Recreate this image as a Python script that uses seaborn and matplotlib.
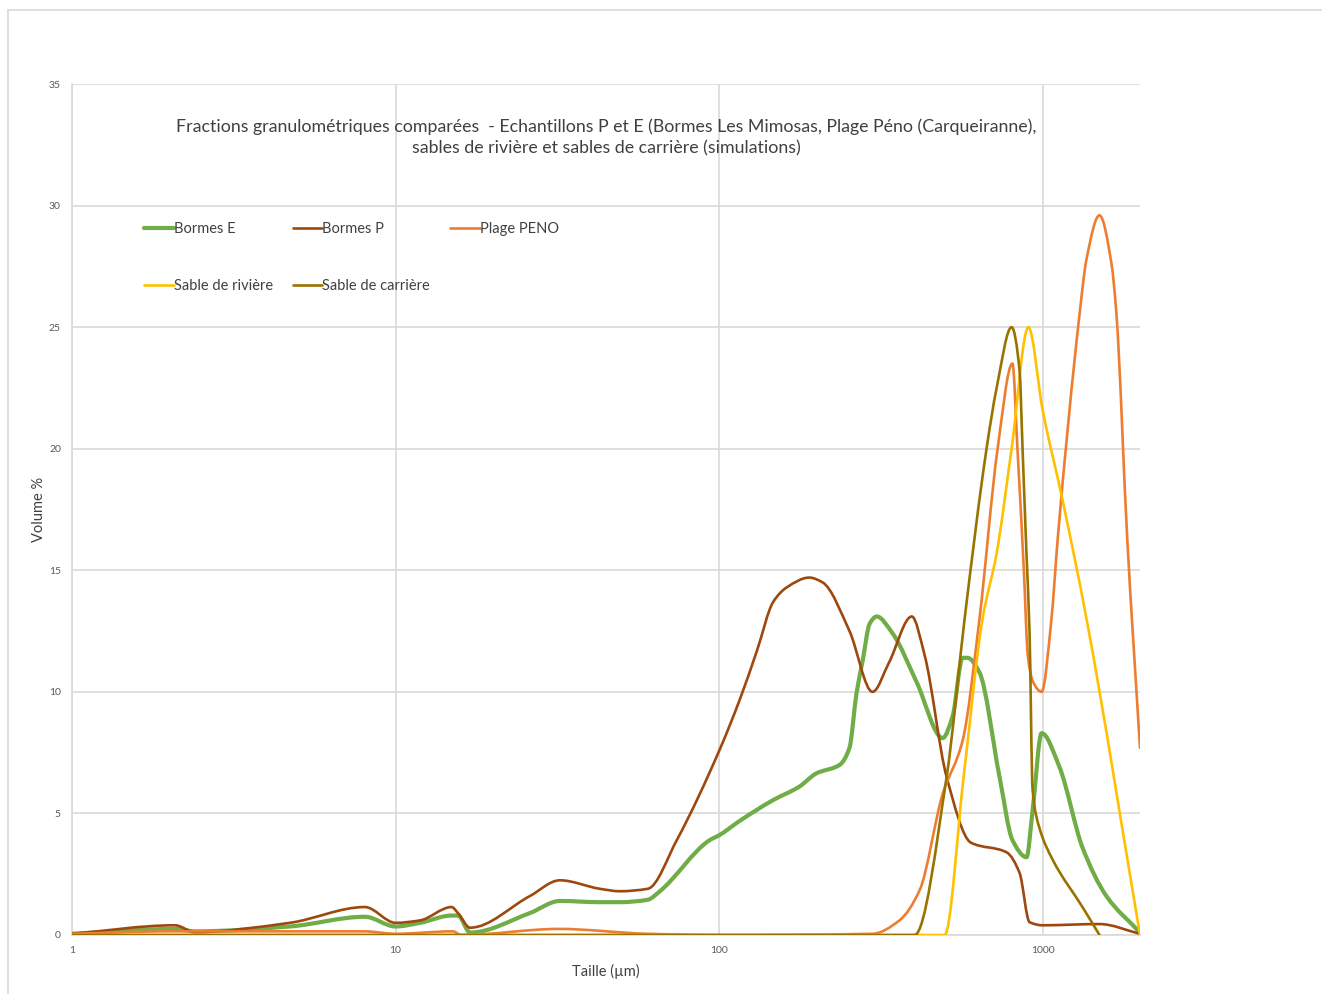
import matplotlib
matplotlib.use("Agg")
import matplotlib.pyplot as plt
import matplotlib.patches as mpatches
from matplotlib.lines import Line2D
from matplotlib.path import Path
import seaborn as sns
import numpy as np

# --- data (size in um, volume %) --- #
bormes_e_x = [1, 2.08, 2.4, 4.71, 8.04, 10, 11.9, 14.9, 15.6, 17.0, 26, 32.2, 42.8, 49.3,
              60.2, 65.6, 93.5, 100, 116, 147, 177, 200, 236, 253, 266, 278, 292, 307, 344,
              408, 491, 527, 566, 586, 638, 736, 807, 892, 931, 993, 1128, 1328, 1575, 2000]
bormes_e_y = [0.05, 0.25, 0.15, 0.35, 0.75, 0.35, 0.5, 0.8, 0.8, 0.1, 0.9, 1.4, 1.35, 1.35,
              1.45, 1.8, 3.9, 4.1, 4.7, 5.55, 6.1, 6.65, 7.0, 7.7, 9.95, 11.3, 12.8, 13.1, 12.4,
              10.4, 8.1, 9.0, 11.4, 11.4, 10.8, 6.5, 3.9, 3.2, 5.1, 8.3, 6.9, 3.6, 1.6, 0.1]

bormes_p_x = [1, 2.08, 2.4, 4.71, 8.04, 10, 11.9, 14.9, 15.6, 17.0, 26, 32.2, 42.8, 49.3,
              60.2, 74, 101, 116, 131, 147, 162, 190, 209, 253, 298, 335, 394, 432, 505,
              600, 774, 849, 911, 1000, 1499, 2000]
bormes_p_y = [0.05, 0.4, 0.12, 0.5, 1.15, 0.5, 0.6, 1.15, 0.9, 0.3, 1.6, 2.25, 1.9, 1.8,
              1.9, 3.9, 7.7, 9.7, 11.7, 13.7, 14.3, 14.7, 14.5, 12.5, 10.0, 11.2, 13.1, 11.5, 6.5,
              3.8, 3.4, 2.55, 0.53, 0.4, 0.45, 0.05]

peno_x = [1, 2, 8, 10, 15, 16, 32, 60, 100, 298, 361, 417, 491, 566, 638, 726, 807,
          836, 875, 900, 935, 993, 1065, 1112, 1300, 1367, 1499, 1633, 1690, 1828, 2000]
peno_y = [0.05, 0.15, 0.15, 0.05, 0.15, 0.0, 0.25, 0.05, 0.0, 0.05, 0.6, 1.85, 5.8, 8.0, 13.0, 20.0, 23.5,
          20.0, 15.0, 11.5, 10.4, 10.0, 13.0, 16.2, 25.5, 27.8, 29.6, 27.6, 25.6, 16.2, 7.7]

riviere_x = [1, 100, 300, 450, 498, 570, 652, 721, 802, 904, 1000, 1152, 1367, 2000]
riviere_y = [0, 0, 0, 0, 0, 6.5, 13.0, 15.7, 20.0, 25.0, 21.6, 17.9, 13.0, 0]

carriere_x = [1, 100, 300, 402, 505, 574, 671, 721, 802, 849, 867, 892, 911, 931, 978, 1074, 1328, 1499]
carriere_y = [0, 0, 0, 0, 6.5, 13.0, 20.0, 22.5, 25.0, 23.2, 20.0, 15.6, 12.5, 6.0, 4.4, 3.1, 1.15, 0]

series = [
    ("Bormes E", bormes_e_x, bormes_e_y, "#70AD47", 3.0),
    ("Bormes P", bormes_p_x, bormes_p_y, "#9E480E", 1.9),
    ("Plage PENO", peno_x, peno_y, "#ED7D31", 1.9),
    ("Sable de rivière", riviere_x, riviere_y, "#FFC000", 1.9),
    ("Sable de carrière", carriere_x, carriere_y, "#997300", 1.9),
]


# [ smooth_path() ]: Excel-like "smoothed line" through the points, #
#                    drawn as cubic bezier segments in log-x space   #
def smooth_path(xs, ys):
    lx = np.log10(np.asarray(xs, float))
    y = np.asarray(ys, float)
    h = np.diff(lx)
    d = np.diff(y) / h
    m = np.zeros_like(y)
    for i in range(1, len(y) - 1):
        if d[i-1] * d[i] > 0:
            w1, w2 = 2*h[i] + h[i-1], h[i] + 2*h[i-1]
            m[i] = (w1 + w2) / (w1 / d[i-1] + w2 / d[i])
    m[0], m[-1] = d[0], d[-1]
    verts = [(xs[0], y[0])]
    codes = [Path.MOVETO]
    for i in range(len(y) - 1):
        c1 = (10 ** (lx[i] + h[i]/3), y[i] + m[i]*h[i]/3)
        c2 = (10 ** (lx[i+1] - h[i]/3), y[i+1] - m[i+1]*h[i]/3)
        verts += [c1, c2, (xs[i+1], y[i+1])]
        codes += [Path.CURVE4] * 3
    return Path(verts, codes)


# --- figure --- #
sns.set_style("white")
plt.rcParams['font.family'] = ['Lato', 'DejaVu Sans']

fig = plt.figure(figsize=(13.22, 9.94), dpi=100)
ax = fig.add_axes([72/1322, 1-935/994, (1140-72)/1322, (935-84)/994])

# outer chart frame (top and left edges only)
fx, fy = 8/1322, 1-10/994
fig.lines.append(Line2D([fx, 1.0], [fy, fy], transform=fig.transFigure, color="#D9D9D9", linewidth=1.2))
fig.lines.append(Line2D([fx, fx], [0.0, fy], transform=fig.transFigure, color="#D9D9D9", linewidth=1.2))

ax.set_xscale("log")
ax.set_xlim(1, 2000)
ax.set_ylim(0, 35)

handles = []
for name, xs, ys, col, lw in series:
    ax.add_patch(mpatches.PathPatch(smooth_path(xs, ys), facecolor="none", edgecolor=col,
                                    linewidth=lw, joinstyle="round", capstyle="round", zorder=3))
    handles.append(Line2D([], [], color=col, linewidth=lw, label=name))

ax.set_xticks([1, 10, 100, 1000])
ax.set_xticklabels(["1", "10", "100", "1000"])
ax.set_yticks(range(0, 36, 5))
ax.minorticks_off()
ax.tick_params(axis="both", length=0, labelsize=7.5, colors="#595959", pad=8)

ax.grid(True, color="#D9D9D9", linewidth=1.2)
for s in ["top", "right"]:
    ax.spines[s].set_visible(False)
for s in ["left", "bottom"]:
    ax.spines[s].set_color("#D9D9D9")
    ax.spines[s].set_linewidth(1.2)

ax.set_xlabel("Taille (µm)", fontsize=10.5, color="#404040", labelpad=6)
ax.set_ylabel("Volume %", fontsize=10.5, color="#404040", labelpad=2)

ax.text(0.5, 0.960, "Fractions granulométriques comparées  - Echantillons P et E (Bormes Les Mimosas, Plage Péno (Carqueiranne),\nsables de rivière et sables de carrière (simulations)",
        transform=ax.transAxes, ha="center", va="top", fontsize=12.8, color="#404040",
        linespacing=1.4)

# legend in row order (matplotlib fills columns first)
order = [0, 3, 1, 4, 2]
ax.legend([handles[i] for i in order], [handles[i].get_label() for i in order], ncol=3,
          frameon=False, loc="upper left", bbox_to_anchor=(0.0555, 0.853), fontsize=10.5,
          handlelength=2.0, handletextpad=0.0, columnspacing=1.4, labelspacing=2.95,
          labelcolor="#404040")

fig.savefig("out.png", dpi=100)
